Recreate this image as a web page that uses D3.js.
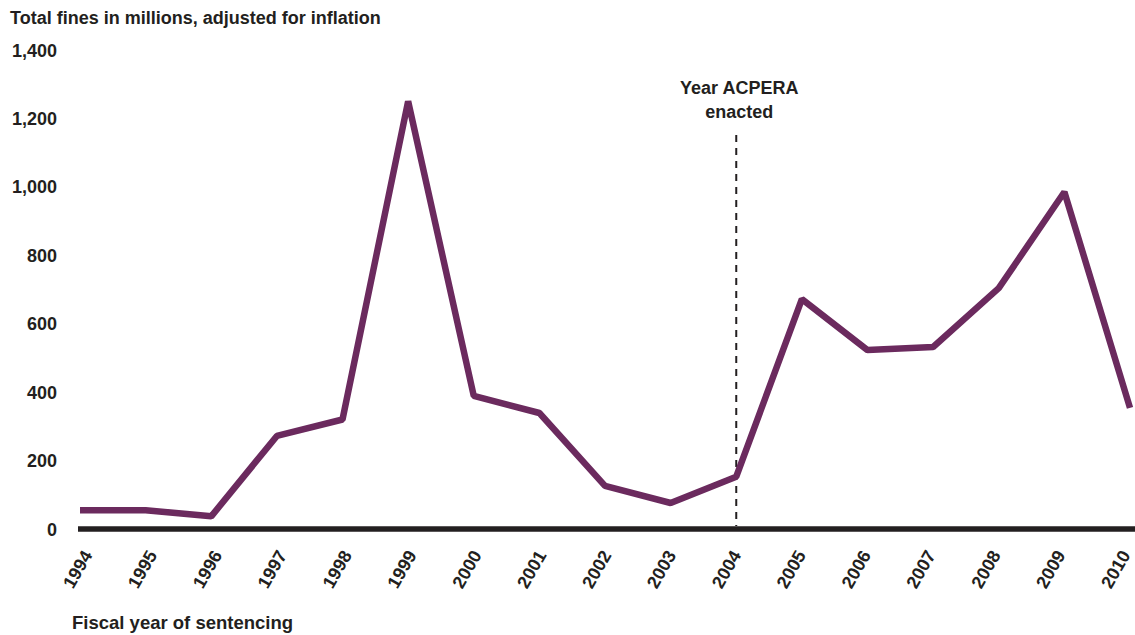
<!DOCTYPE html>
<html><head><meta charset="utf-8">
<script src="https://cdn.jsdelivr.net/npm/d3@7"></script>
<style>body{margin:0;background:#fff}text{font-family:"Liberation Sans",Arial,Helvetica,sans-serif;font-weight:bold;fill:#231f20}</style>
</head><body><svg id="c" width="1135" height="635"></svg>
<script>
const years = [1994,1995,1996,1997,1998,1999,2000,2001,2002,2003,2004,2005,2006,2007,2008,2009,2010];
const fines = [55,55,37,272,320,1250,389,339,126,76,153,672,523,532,704,985,354];
const yTicks = [0,200,400,600,800,1000,1200,1400];
const eventYear = 2004;
const eventLabel = ["Year ACPERA","enacted"];
const yTitle = "Total fines in millions, adjusted for inflation";
const xTitle = "Fiscal year of sentencing";

const svg = d3.select("#c");
const x = d3.scaleLinear().domain([1994,2010]).range([80,1130]);
const xl = d3.scaleLinear().domain([1994,2010]).range([93,1131]);
const y = d3.scaleLinear().domain([0,1400]).range([529,50]);
const fmt = d3.format(",");
const fs = 18;

svg.append("text").attr("x",10).attr("y",24).attr("font-size",fs).text(yTitle);

svg.selectAll(".yl").data(yTicks).enter().append("text")
  .attr("x",57).attr("y",d=>y(d)+6.5).attr("text-anchor","end").attr("font-size",fs).text(d=>fmt(d));

// dashed event line
svg.append("line").attr("x1",x(eventYear)).attr("x2",x(eventYear)).attr("y1",135).attr("y2",y(0)-3)
  .attr("stroke","#231f20").attr("stroke-width",2).attr("stroke-dasharray","7,6");
svg.selectAll(".ev").data(eventLabel).enter().append("text")
  .attr("x",x(eventYear)+3).attr("y",(d,i)=>94+i*24).attr("text-anchor","middle").attr("font-size",fs).text(d=>d);

// baseline
svg.append("line").attr("x1",78).attr("x2",1135).attr("y1",y(0)).attr("y2",y(0))
  .attr("stroke","#231f20").attr("stroke-width",5.5);

// data line
const line = d3.line().x((d,i)=>x(years[i])).y(d=>y(d));
svg.append("path").datum(fines).attr("d",line).attr("fill","none")
  .attr("stroke","#6b2a5e").attr("stroke-width",6.5).attr("stroke-linejoin","bevel").attr("stroke-linecap","butt");

// x labels
svg.selectAll(".xl").data(years).enter().append("text")
  .attr("transform",d=>`translate(${xl(d)},${555}) rotate(-60)`)
  .attr("text-anchor","end").attr("font-size",fs).text(d=>d);

svg.append("text").attr("x",72).attr("y",629).attr("font-size",18.5).text(xTitle);
</script></body></html>
